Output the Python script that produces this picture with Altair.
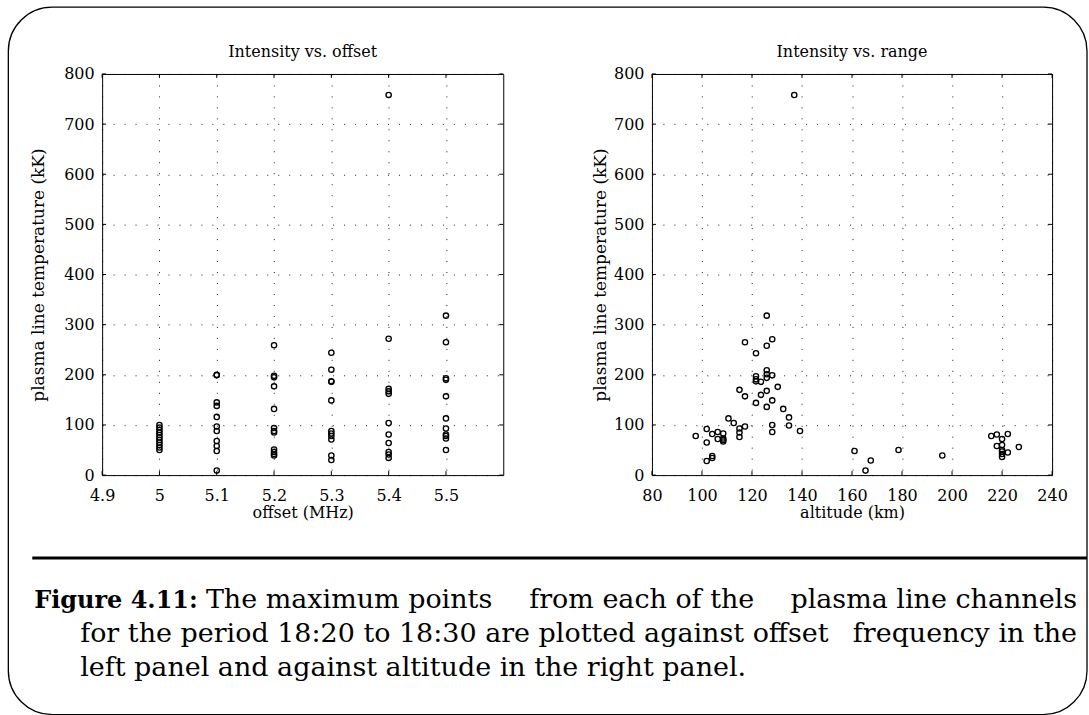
import altair as alt
import pandas as pd

# ---------------- data ----------------
offset_x = ([5.0] * 11 + [5.1] * 11 + [5.2] * 12 + [5.3] * 11 + [5.4] * 11 + [5.5] * 11)
offset_temp = [
    100, 95, 90, 85, 80, 75, 70, 65, 60, 55, 50,
    200, 199, 145, 138, 116, 97, 88, 68, 58, 48, 9,
    259, 198, 195, 177, 132, 94, 88, 85, 51, 46, 42, 39,
    244, 210, 187, 186, 149, 88, 83, 78, 71, 39, 30,
    758, 272, 172, 167, 162, 104, 81, 64, 46, 41, 34,
    318, 265, 193, 190, 157, 113, 93, 81, 78, 73, 50,
]

altitude_km = [
    136.9, 125.9, 128.1, 117.2, 125.9, 121.6, 125.9, 125.9, 125.9, 128.1,
    121.6, 121.6, 121.6, 123.6, 130.3, 115.0, 125.9, 123.6, 117.2, 128.1,
    121.6, 125.9, 132.5, 134.8, 110.6, 112.7, 128.1, 134.8, 117.2, 115.0,
    101.9, 139.2, 115.0, 128.1, 106.3, 104.1, 108.5, 97.5, 115.0, 106.3,
    108.5, 108.5, 108.5, 101.9, 104.1, 104.1, 101.9, 161.0, 165.4, 167.5,
    178.6, 196.1, 215.7, 217.9, 222.3, 220.0, 217.9, 220.0, 220.0, 220.0,
    222.3, 220.0, 220.0, 226.7,
]
altitude_temp = [
    758, 318, 271, 265, 258, 243, 209, 201, 194, 199,
    197, 191, 187, 186, 176, 170, 168, 160, 157, 149,
    144, 136, 132, 115, 113, 104, 100, 99, 97, 93,
    92, 88, 85, 86, 86, 82, 83, 78, 76, 72,
    73, 70, 67, 65, 38, 34, 28, 48, 9, 29,
    50, 39, 78, 81, 82, 72, 58, 60, 50, 47,
    45, 42, 36, 56,
]

offset_ticks = [4.9, 5.0, 5.1, 5.2, 5.3, 5.4, 5.5]
altitude_ticks = [80, 100, 120, 140, 160, 180, 200, 220, 240]
temp_ticks = [0, 100, 200, 300, 400, 500, 600, 700, 800]

panel_titles = ["Intensity vs. offset", "Intensity vs. range"]
x_titles = ["offset (MHz)", "altitude (km)"]
y_title = "plasma line temperature (kK)"
caption_bold = "Figure 4.11:"
# justified caption lines, split into word groups
caption_line1 = ["The maximum points", "from each of the", "plasma line channels"]
caption_line2 = ["for the period 18:20 to 18:30 are plotted against offset", "frequency in the"]
caption_line3 = "left panel and against altitude in the right panel."

# ---------------- styling ----------------
SERIF = "DejaVu Serif"
H = 402
TICK = 4


def panel(xvals, yvals, xdomain, xticks, xfmt, xtitle, title, width, ytitle_x):
    df = pd.DataFrame({"x": xvals, "temp": yvals})
    xscale = alt.Scale(domain=xdomain, nice=False, zero=False)
    yscale = alt.Scale(domain=[0, 800], nice=False, zero=False)

    xaxis = alt.Axis(
        values=xticks, format=xfmt, title=xtitle, grid=True,
        gridDash=[1, 10], gridColor="black", gridOpacity=0.9, gridWidth=1,
        domain=False, ticks=False, tickSize=0,
        labelFont=SERIF, labelFontSize=16, labelColor="black",
        labelPadding=20, labelBaseline="middle", labelFlush=False,
        labelOverlap=False,
        titleFont=SERIF, titleFontSize=16, titleFontWeight="normal",
        titleColor="black", titleY=37, titleBaseline="middle",
    )
    yaxis = alt.Axis(
        values=temp_ticks, title=y_title, grid=True,
        gridDash=[1, 10], gridColor="black", gridOpacity=0.9, gridWidth=1,
        domain=False, ticks=False, tickSize=0,
        labelFont=SERIF, labelFontSize=16, labelColor="black",
        labelPadding=8, labelBaseline="middle", labelFlush=False,
        labelOverlap=False,
        titleFont=SERIF, titleFontSize=17, titleFontWeight="normal",
        titleColor="black", titleX=ytitle_x, titleY=H / 2,
        titleBaseline="middle", titleAngle=270,
    )

    pts = alt.Chart(df).mark_point(
        shape="circle", filled=False, size=28, strokeWidth=1.35,
        color="black", opacity=1,
    ).encode(
        x=alt.X("x:Q", scale=xscale, axis=xaxis),
        y=alt.Y("temp:Q", scale=yscale, axis=yaxis),
    )

    xt = pd.DataFrame({"x": xticks})
    yt = pd.DataFrame({"temp": temp_ticks})
    rule = dict(color="black", strokeWidth=1)
    xb = alt.Chart(xt).mark_rule(**rule).encode(
        x=alt.X("x:Q", scale=xscale, axis=xaxis), y=alt.value(H), y2=alt.value(H - TICK))
    xtop = alt.Chart(xt).mark_rule(**rule).encode(
        x=alt.X("x:Q", scale=xscale, axis=xaxis), y=alt.value(0), y2=alt.value(TICK))
    yl = alt.Chart(yt).mark_rule(**rule).encode(
        y=alt.Y("temp:Q", scale=yscale, axis=yaxis), x=alt.value(0), x2=alt.value(TICK))
    yr = alt.Chart(yt).mark_rule(**rule).encode(
        y=alt.Y("temp:Q", scale=yscale, axis=yaxis), x=alt.value(width), x2=alt.value(width - TICK))

    ttl = alt.Chart(pd.DataFrame({"a": [0]})).mark_text(
        font=SERIF, fontSize=16, align="center", baseline="alphabetic", color="black",
    ).encode(x=alt.value(width / 2), y=alt.value(-17), text=alt.value(title))

    return alt.layer(pts, xb, xtop, yl, yr, ttl).properties(width=width, height=H)


left = panel(offset_x, offset_temp, [4.9, 5.6], offset_ticks, ".1~f", x_titles[0],
             panel_titles[0], 402, -64)
right = panel(altitude_km, altitude_temp, [80, 240], altitude_ticks, "d", x_titles[1],
              panel_titles[1], 401, -52)

# ---------------- caption (group origin at page x=101, y=500) ----------------
one = pd.DataFrame({"a": [0]})
frame = alt.Chart(one).mark_rect(
    fillOpacity=0, stroke="black", strokeWidth=1.3, cornerRadius=44,
).encode(x=alt.value(-94), x2=alt.value(987), y=alt.value(-495), y2=alt.value(214))
hrule = alt.Chart(one).mark_rule(color="black", strokeWidth=3).encode(
    x=alt.value(-70), x2=alt.value(987), y=alt.value(57))

txt = dict(font=SERIF, fontSize=27, baseline="alphabetic", color="black")


def cap(text, x, y, align="left", **kw):
    return alt.Chart(one).mark_text(align=align, **dict(txt, **kw)).encode(
        x=alt.value(x), y=alt.value(y), text=alt.value(text))


caption = alt.layer(
    frame, hrule,
    cap(caption_bold, -68, 107, fontWeight="bold", fontSize=24),
    cap(caption_line1[0], 104, 107),
    cap(caption_line1[1], 428, 107),
    cap(caption_line1[2], 977, 107, align="right"),
    cap(caption_line2[0], -22, 141),
    cap(caption_line2[1], 977, 141, align="right"),
    cap(caption_line3, -22, 175),
).properties(
    width=400, height=200,
    view=alt.ViewBackground(stroke="transparent"),
)

chart = alt.concat(
    left, right, caption,
    columns=2, spacing={"row": 26, "column": 149}, bounds="flush",
).properties(
    padding={"left": 6.35, "top": 4.35, "right": 0, "bottom": 0},
    background="white",
).configure_view(stroke="black", strokeWidth=1)

chart.save("out.html", embed_options={"renderer": "svg", "actions": False})
